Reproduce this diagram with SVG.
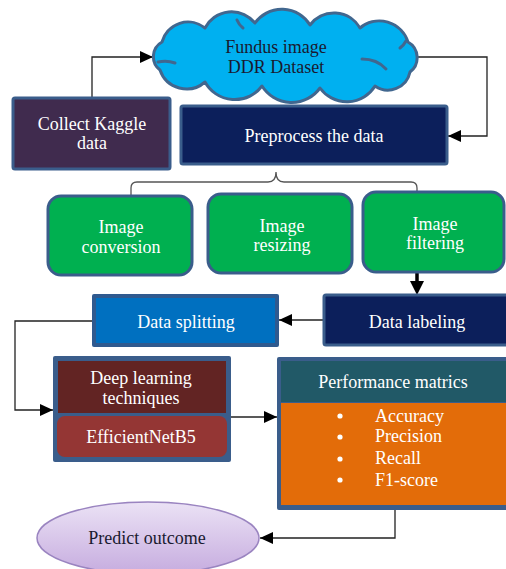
<svg xmlns="http://www.w3.org/2000/svg" width="506" height="569" viewBox="0 0 506 569">
  <defs>
    <marker id="arrow" markerUnits="userSpaceOnUse" markerWidth="14" markerHeight="12" refX="13" refY="6" orient="auto">
      <path d="M0,0 L13,6 L0,12 Z" fill="#000"/>
    </marker>
    <linearGradient id="lavender" x1="0" y1="0" x2="0" y2="1">
      <stop offset="0" stop-color="#ebe2f5"/>
      <stop offset="1" stop-color="#c6acdf"/>
    </linearGradient>
    <style>
      .t { font-family: 'Liberation Serif', 'Times New Roman', serif; font-size: 18px; }
      .c { text-anchor: middle; }
      .s { text-anchor: start; }
      .light { fill: #ffffff; }
      .dark { fill: #1a1a30; }
      .frame { stroke: #3a5d8b; stroke-width: 3; }
      .link { fill: none; stroke: #222; stroke-width: 1.3; }
    </style>
  </defs>

  <rect width="506" height="569" fill="#ffffff"/>

  <!-- connectors -->
  <g id="connectors">
    <path class="link" d="M92 97 V57 H153" marker-end="url(#arrow)"/>
    <path class="link" d="M417 57 H487 V136 H448" marker-end="url(#arrow)"/>
    <path fill="none" stroke="#555" stroke-width="1.3" d="M131 196 V188 Q131 182 137 182 H268 Q276 182 276 172 Q276 182 284 182 H411 Q417 182 417 188 V195"/>
    <path fill="none" stroke="#000" stroke-width="3.5" d="M417 273 V285"/>
    <path d="M410 281 L424 281 L417 295 Z" fill="#000"/>
    <path class="link" d="M323 320 H279" marker-end="url(#arrow)"/>
    <path class="link" d="M92 321 H15 V410 H53" marker-end="url(#arrow)"/>
    <path class="link" d="M231 417 H277" marker-end="url(#arrow)"/>
    <path class="link" d="M395 509 V538 H260" marker-end="url(#arrow)"/>
  </g>

  <!-- Fundus image cloud -->
  <g id="node-dataset">
    <path fill="#00b0f0" stroke="#41678f" stroke-width="3" stroke-linejoin="round"
      d="M160 70 A16.8 16.8 0 0 1 162 42 A27 27 0 0 1 205 28 A30 30 0 0 1 255 23 A33 33 0 0 1 310 25 A30 30 0 0 1 360 28 A30 30 0 0 1 408 42 A18 18 0 0 1 410 72 A22.6 22.6 0 0 1 375 86 A33 33 0 0 1 320 88 A35 35 0 0 1 262 86 A34 34 0 0 1 205 82 A28 28 0 0 1 160 70 Z"/>
    <g fill="none" stroke="#41678f" stroke-width="3" stroke-linecap="round">
      <path d="M158 62 Q167 60 175 63"/>
      <path d="M362 59 Q377 59 386 69"/>
      <path d="M400 48 Q404 45 406 41"/>
      <path d="M237 20 Q239 25 243 28"/>
    </g>
    <text class="t c dark" x="276" y="53">Fundus image</text>
    <text class="t c dark" x="276" y="73">DDR Dataset</text>
  </g>

  <g id="node-collect">
    <rect class="frame" x="13" y="98" width="157" height="71" rx="2" fill="#402b4e"/>
    <text class="t c light" x="92" y="130">Collect Kaggle</text>
    <text class="t c light" x="92" y="149">data</text>
  </g>

  <g id="node-preprocess">
    <rect class="frame" x="181" y="106" width="266" height="58" rx="2" fill="#0c1f5b"/>
    <text class="t c light" x="314" y="142">Preprocess the data</text>
  </g>

  <g id="node-conversion">
    <rect class="frame" x="48" y="196" width="144" height="79" rx="13" fill="#00b050"/>
    <text class="t c light" x="121" y="233">Image</text>
    <text class="t c light" x="121" y="253">conversion</text>
  </g>

  <g id="node-resizing">
    <rect class="frame" x="208" y="194" width="144" height="79" rx="13" fill="#00b050"/>
    <text class="t c light" x="282" y="232">Image</text>
    <text class="t c light" x="282" y="251">resizing</text>
  </g>

  <g id="node-filtering">
    <rect class="frame" x="363" y="192" width="141" height="80" rx="13" fill="#00b050"/>
    <text class="t c light" x="435" y="230">Image</text>
    <text class="t c light" x="435" y="249">filtering</text>
  </g>

  <g id="node-labeling">
    <rect class="frame" x="324" y="295" width="190" height="50" rx="2" fill="#0c1f5b"/>
    <text class="t c light" x="417" y="328">Data labeling</text>
  </g>

  <g id="node-splitting">
    <rect x="92" y="294" width="187" height="53" rx="2" fill="#2f5a8f"/>
    <rect x="96" y="298" width="179" height="45" fill="#0070c0"/>
    <text class="t c light" x="186" y="328">Data splitting</text>
  </g>

  <g id="node-deeplearning">
    <rect x="53" y="356" width="178" height="106" rx="2" fill="#3a5d8b"/>
    <rect x="58" y="361" width="168" height="52" fill="#622423"/>
    <rect x="57" y="416" width="170" height="41" rx="8" fill="#943634"/>
    <text class="t c light" x="141" y="384">Deep learning</text>
    <text class="t c light" x="141" y="404">techniques</text>
    <text class="t c light" x="141" y="443">EfficientNetB5</text>
  </g>

  <g id="node-performance">
    <rect x="277" y="357" width="240" height="153" rx="2" fill="#3a5d8b"/>
    <rect x="281" y="361" width="230" height="41" fill="#215967"/>
    <rect x="281" y="403" width="230" height="102" fill="#e36c09"/>
    <text class="t c light" x="393" y="388">Performance matrics</text>
    <g fill="#ffffff">
      <circle cx="340" cy="416" r="2.6"/>
      <circle cx="340" cy="437" r="2.6"/>
      <circle cx="340" cy="459" r="2.6"/>
      <circle cx="340" cy="480" r="2.6"/>
    </g>
    <text class="t s light" x="375" y="422">Accuracy</text>
    <text class="t s light" x="375" y="442">Precision</text>
    <text class="t s light" x="375" y="464">Recall</text>
    <text class="t s light" x="375" y="486">F1-score</text>
  </g>

  <g id="node-predict">
    <ellipse cx="148" cy="538" rx="111" ry="36" fill="url(#lavender)" stroke="#9a84c0" stroke-width="1.5"/>
    <text class="t c dark" x="147" y="544">Predict outcome</text>
  </g>
</svg>
